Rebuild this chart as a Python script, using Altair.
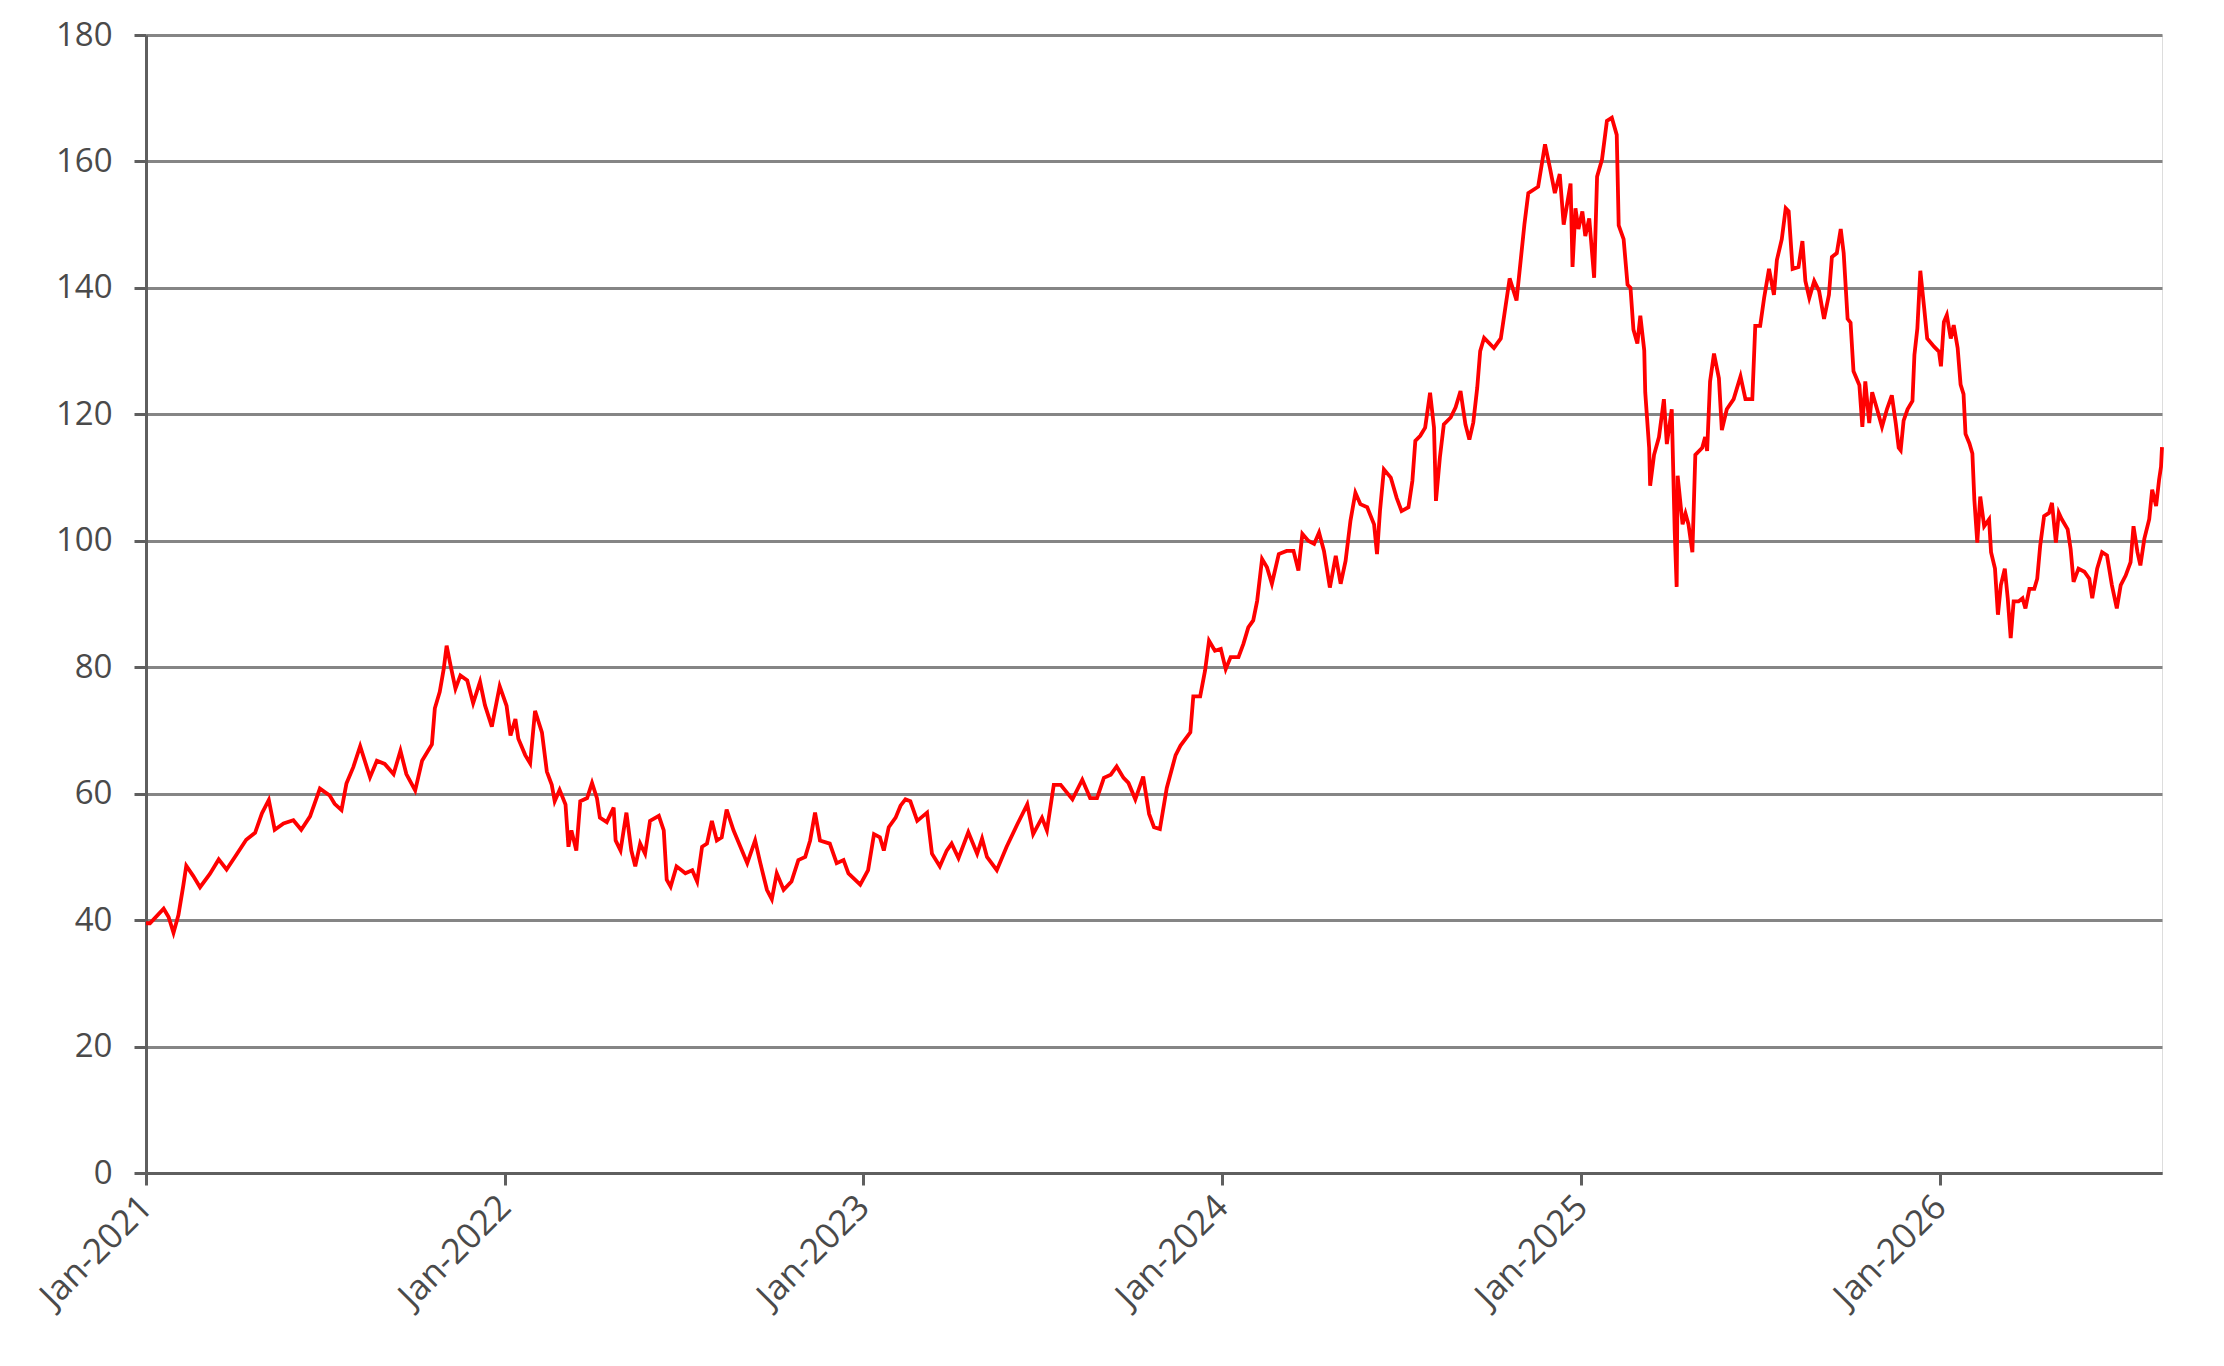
import altair as alt
import pandas as pd

# Days since 2021-01-01 and index values, by period
days_2021 = [0, 4, 18, 23, 28, 33, 38, 41, 48, 55, 65, 74, 82, 91, 102, 111, 118, 125, 131, 140,
             150, 158, 167, 177, 187, 192, 199, 204, 211, 218, 228, 235, 243, 252, 259, 265, 274, 281, 291, 294,
             299, 303, 306, 310, 315, 320, 327, 333, 340, 345, 352]
vals_2021 = [39.5, 39.5, 41.8, 40.5, 38, 40.8, 45.5, 48.6, 47, 45.2, 47.3, 49.6, 48, 50.1, 52.7, 53.8, 56.9, 59, 54.3, 55.3,
             55.8, 54.3, 56.4, 60.8, 59.7, 58.4, 57.4, 61.6, 64.2, 67.5, 62.6, 65.2, 64.7, 63.1, 66.8, 63.1, 60.5, 65.2, 67.8, 73.5,
             76.1, 79.7, 83.4, 80.3, 76.6, 78.7, 77.9, 74.3, 77.7, 74, 70.6]

days_2022 = [360, 367, 371, 376, 379, 386, 391, 396, 403, 408, 413, 416, 421, 427, 430, 433, 438, 442, 449, 454,
             459, 462, 469, 476, 478, 483, 489, 494, 498, 503, 508, 513, 522, 527, 530, 534, 540, 549, 556, 561,
             566, 571, 576, 581, 586, 591, 598, 605, 612, 620, 625, 632, 637, 642, 649, 657, 664, 671, 676, 681,
             686, 696, 703, 710, 715]
vals_2022 = [77, 73.9, 69.2, 71.8, 68.7, 66.1, 64.8, 73.1, 69.7, 63.5, 61.4, 58.8, 60.6, 58.3, 51.6, 54.2, 51, 58.8, 59.3, 61.7,
             59.3, 56.2, 55.5, 57.8, 52.6, 51, 57, 51, 48.5, 52.1, 50.5, 55.7, 56.5, 54.2, 46.4, 45.3, 48.5, 47.4, 47.9, 46.1,
             51.6, 52.1, 55.7, 52.6, 53.1, 57.5, 54.2, 51.6, 49, 52.6, 49.2, 44.8, 43.3, 47.4, 44.8, 46.1, 49.5, 50, 52.6, 57,
             52.6, 52.1, 49, 49.5, 47.4]

days_2023 = [727, 735, 741, 747, 751, 756, 763, 768, 773, 778, 785, 795, 800, 808, 815, 820, 827, 837, 846, 851,
             856, 866, 876, 887, 897, 903, 912, 917, 924, 931, 943, 953, 961, 968, 975, 982, 988, 995, 1000, 1007,
             1015, 1021, 1026, 1032, 1039, 1048, 1053, 1063, 1066, 1073, 1078, 1082, 1088]
vals_2023 = [45.6, 47.9, 53.6, 53.1, 51, 54.7, 56.2, 58.1, 59.1, 58.8, 55.7, 57, 50.5, 48.5, 51, 52.1, 49.8, 53.9, 50.5, 52.9,
             50, 47.9, 51.6, 55.2, 58.3, 53.6, 56.2, 54.2, 61.4, 61.4, 59.1, 62.2, 59.3, 59.3, 62.5, 63, 64.3, 62.5, 61.7, 59.1,
             62.7, 56.8, 54.7, 54.4, 60.9, 66.1, 67.6, 69.7, 75.4, 75.4, 79.5, 84.2, 82.6]

days_2024 = [1094, 1099, 1104, 1112, 1117, 1122, 1127, 1131, 1136, 1141, 1146, 1153, 1161, 1168, 1173, 1177, 1183, 1189, 1194, 1199,
             1205, 1211, 1216, 1221, 1226, 1231, 1236, 1243, 1250, 1253, 1256, 1260, 1267, 1273, 1278, 1285, 1289, 1292, 1297, 1302,
             1307, 1311, 1313, 1317, 1321, 1328, 1333, 1338, 1343, 1347, 1351, 1355, 1358, 1362, 1372, 1379,
             1388, 1395, 1403, 1407, 1417, 1424, 1429, 1434, 1439, 1443]
vals_2024 = [82.9, 79.7, 81.6, 81.6, 83.7, 86.3, 87.4, 90.5, 97.1, 95.8, 93.2, 97.9, 98.4, 98.4, 95.3, 101.1, 100, 99.5, 101.3, 98.4,
             92.6, 97.6, 93.2, 96.8, 103.2, 107.6, 105.8, 105.3, 102.6, 97.9, 104.7, 111.3, 110, 106.8, 104.7, 105.3, 109.5, 115.8, 116.6, 117.9,
             123.4, 117.9, 106.3, 113.2, 118.4, 119.5, 121.1, 123.7, 118.4, 116, 118.7, 124.2, 130, 132.1, 130.5, 132,
             141.5, 138, 150, 155, 156, 162.7, 159, 155, 158, 150]

days_2025 = [1450, 1452, 1455, 1458, 1462, 1465, 1469, 1474, 1477, 1482, 1487, 1492, 1497, 1499, 1504, 1508, 1511, 1514, 1518, 1521,
             1525, 1526, 1530, 1531, 1535, 1540, 1545, 1548, 1553, 1556, 1558, 1559, 1564, 1567, 1570, 1574, 1577, 1584, 1587, 1589,
             1592, 1596, 1601, 1604, 1609, 1616, 1623, 1628, 1635, 1638, 1643, 1647, 1652, 1657, 1660, 1665, 1669, 1672, 1676, 1682,
             1686, 1689, 1693, 1698, 1703, 1708, 1713, 1716, 1721, 1725, 1728, 1732, 1735, 1738, 1744, 1747, 1750, 1754, 1757, 1762,
             1767, 1772, 1777, 1781, 1784]
vals_2025 = [156.5, 143.3, 152.6, 149.3, 152.1, 148.2, 151, 141.6, 157.6, 160.3, 166.4, 166.9, 164.2, 149.9, 147.7, 140.5, 140, 133.4, 131.2, 135.6,
             130.1, 123.5, 114.7, 108.7, 113.6, 116.4, 122.4, 115.3, 120.8, 101.5, 92.7, 110.3, 102.6, 104.3, 102.6, 98.2, 113.6, 114.7, 116.4, 114.2,
             125.2, 129.6, 125.7, 117.5, 120.8, 122.4, 126, 122.4, 122.4, 134, 134, 138.4, 143, 138.9, 144.4, 147.7, 152.6, 152.1, 143, 143.3,
             147.4, 141.1, 138.4, 141.1, 139.5, 135.1, 138.9, 144.9, 145.5, 149.3, 145.5, 135.1, 134.5, 126.8, 124.6, 118, 125.2, 118.6, 123.5, 120.8,
             118, 120.8, 123, 118.6, 114.7]

days_2026 = [1786, 1789, 1793, 1798, 1800, 1803, 1806, 1810, 1813, 1820, 1825, 1827, 1830, 1833, 1837, 1840, 1844, 1847, 1850, 1852,
             1856, 1859, 1861, 1864, 1867, 1871, 1876, 1878, 1882, 1885, 1888, 1892, 1895, 1898, 1901, 1906, 1910, 1913, 1917, 1922,
             1925, 1928, 1932, 1937, 1940, 1944, 1947, 1950, 1956, 1959, 1962, 1967, 1973, 1978, 1981, 1986, 1991, 1996, 2001, 2006,
             2010, 2015, 2020, 2023, 2027, 2030, 2034, 2039, 2042, 2046, 2049, 2051, 2052]
vals_2026 = [114.3, 119, 120.8, 122.1, 129.4, 133.6, 142.7, 136.7, 132, 130.7, 129.9, 127.6, 134.6, 135.7, 132, 134.1, 130.5, 124.7, 123.2, 116.9,
             115.4, 113.8, 106.5, 99.7, 107, 102.3, 103.4, 98.2, 95.6, 88.3, 93, 95.6, 90.9, 84.6, 90.4, 90.4, 90.9, 89.3, 92.4, 92.4,
             94, 99.2, 103.9, 104.4, 106, 99.7, 104.4, 103.4, 101.8, 98.7, 93.5, 95.6, 95.1, 94, 90.9, 95.6, 98.2, 97.7, 93, 89.3,
             93, 94.5, 96.6, 102.3, 98.2, 96.1, 100.3, 103.4, 108.1, 105.5, 109.6, 111.7, 114.8]

start_date = "2021-01-01"
tick_years = [2021, 2022, 2023, 2024, 2025, 2026]
y_ticks = [0, 20, 40, 60, 80, 100, 120, 140, 160, 180]

all_days = days_2021 + days_2022 + days_2023 + days_2024 + days_2025 + days_2026
all_vals = vals_2021 + vals_2022 + vals_2023 + vals_2024 + vals_2025 + vals_2026
df = pd.DataFrame({
    "date": pd.Timestamp(start_date) + pd.to_timedelta(all_days, unit="D"),
    "value": all_vals,
})

AXIS_DARK = "#5f5f5f"
GRID = "#858585"
LABEL = "#4a4a4a"
FONT = "Open Sans"

line = alt.Chart(df).mark_line(color="#ff0000", strokeWidth=3.8, interpolate="linear").encode(
    x=alt.X(
        "date:T",
        scale=alt.Scale(
            domain=[alt.DateTime(year=2021, month=1, date=1), alt.DateTime(year=2026, month=8, date=15)],
            nice=False,
        ),
        axis=alt.Axis(
            values=[alt.DateTime(year=y, month=1, date=1) for y in tick_years],
            format="%b-%Y",
            labelAngle=315,
            labelAlign="right",
            labelBaseline="middle",
            labelPadding=16,
            labelFontSize=35,
            labelFont=FONT,
            labelColor=LABEL,
            grid=False,
            domainColor=AXIS_DARK,
            domainWidth=3,
            tickColor=AXIS_DARK,
            tickWidth=3,
            tickSize=12,
            title=None,
        ),
    ),
    y=alt.Y(
        "value:Q",
        scale=alt.Scale(domain=[0, 180], nice=False),
        axis=alt.Axis(
            values=y_ticks,
            labelFontSize=33,
            labelFont=FONT,
            labelColor=LABEL,
            labelPadding=22,
            grid=True,
            gridColor=GRID,
            gridWidth=3,
            domainColor=AXIS_DARK,
            domainWidth=3,
            tickColor=AXIS_DARK,
            tickWidth=3,
            tickSize=12,
            title=None,
        ),
    ),
)

chart = line.properties(
    width=2016,
    height=1138,
    padding={"left": 138, "top": 27, "right": 40, "bottom": 170},
    autosize=alt.AutoSizeParams(type="none"),
).configure_view(
    stroke=GRID,
    strokeWidth=3,
).configure(background="white")

chart.save("out.html", embed_options={"renderer": "svg", "actions": False})
